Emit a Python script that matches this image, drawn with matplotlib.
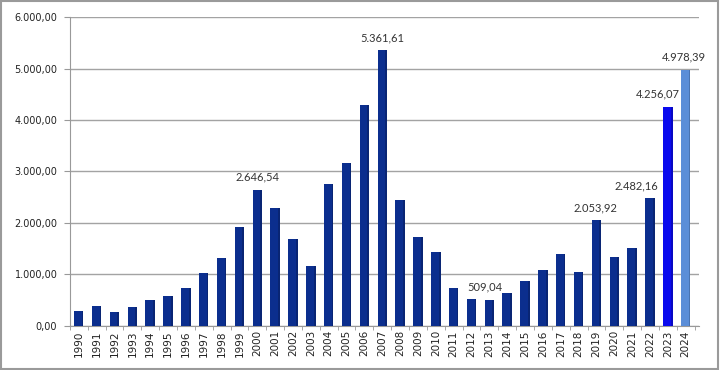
import matplotlib
matplotlib.use("Agg")
import matplotlib.pyplot as plt
from matplotlib.patches import Rectangle
import numpy as np

years = [str(y) for y in range(1990, 2025)]
values = [283, 381, 271, 361, 512, 576, 740, 1020, 1326, 1931,
          2646.54, 2295, 1684, 1162, 2758, 3162, 4301, 5361.61, 2451, 1736,
          1436, 732, 525, 509.04, 642, 869, 1084, 1391, 1053, 2053.92,
          1346, 1521, 2482.16, 4256.07, 4978.39]
labeled_years = ["2000", "2007", "2013", "2019", "2022", "2023", "2024"]
yticks = [0, 1000, 2000, 3000, 4000, 5000, 6000]

def fmt(v):
    s = f"{v:,.2f}"
    return s.replace(",", "X").replace(".", ",").replace("X", ".")

colors = []
for y in years:
    if y == "2023":
        colors.append("#0A0AEE")
    elif y == "2024":
        colors.append("#5B8ED8")
    else:
        colors.append("#0B2E8E")

fig = plt.figure(figsize=(7.2, 3.7), dpi=100)
ax = fig.add_axes([0.097, 0.119, 0.874, 0.835])
x = np.arange(len(years))
bars = ax.bar(x, values, width=0.53, color=colors, edgecolor="none", zorder=3)
# darker right side for a slight 3D look
for b in bars:
    ax.bar(b.get_x() + b.get_width() * 0.82, b.get_height(), width=b.get_width() * 0.18,
           align="edge", color="black", alpha=0.18, edgecolor="none", zorder=4)

ax.set_xlim(-0.5, 34.75)
ax.set_ylim(0, 6000)
ax.set_yticks(yticks)
ax.set_yticklabels([fmt(v) for v in yticks], fontsize=7, color="#222222")
ax.set_xticks(x)
ax.set_xticklabels(years, rotation=90, fontsize=7.5, color="#222222")
ax.tick_params(axis="x", length=0, pad=3)
ax.set_xticks(np.arange(-0.5, 35, 1), minor=True)
ax.tick_params(axis="x", which="minor", length=3, color="#999999")
ax.tick_params(axis="y", length=4, color="#999999", pad=5)
ax.grid(axis="y", color="#a3a3a3", linewidth=1.0, zorder=0)
for s in ["top", "right"]:
    ax.spines[s].set_visible(False)
ax.spines["left"].set_color("#999999")
ax.spines["bottom"].set_color("#999999")

offsets = {"2000": 0, "2007": 0, "2013": -3, "2019": -1, "2022": -10, "2023": -7, "2024": -1}
for yr in labeled_years:
    i = years.index(yr)
    ax.annotate(fmt(values[i]), (x[i], values[i]), xytext=(offsets[yr], 5),
                textcoords="offset points", ha="center", va="bottom",
                fontsize=8, family="Lato", color="#333333", zorder=5,
                bbox=dict(facecolor="white", edgecolor="none", pad=0.5) if yr == "2024" else None)

fig.add_artist(Rectangle((0.002, 0.003), 0.995, 0.994, transform=fig.transFigure,
                         fill=False, edgecolor="#9a9a9a", linewidth=1.5))
fig.savefig("out.png", dpi=100)
